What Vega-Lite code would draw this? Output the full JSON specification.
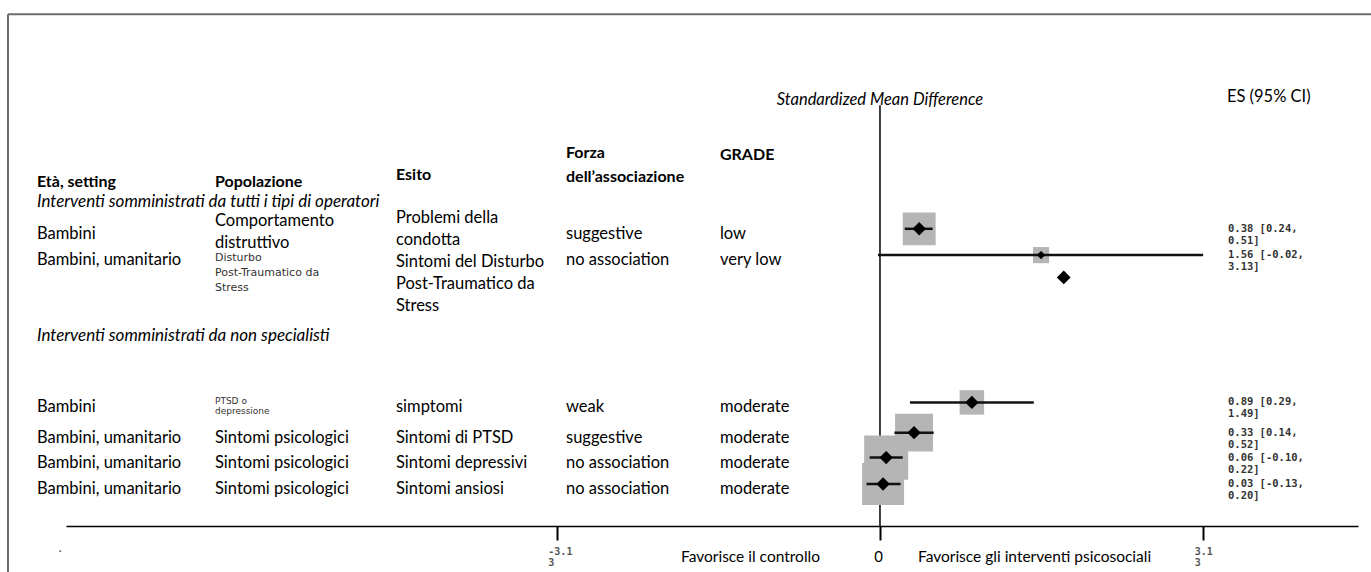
{
  "$schema": "https://vega.github.io/schema/vega-lite/v6.json",
  "autosize": {"type": "none"},
  "width": 1292,
  "height": 526,
  "padding": {"left": 66, "top": 0, "right": 13, "bottom": 46},
  "background": "white",
  "config": {"view": {"stroke": null}, "text": {"font": "Lato"}},
  "datasets": {
    "rows": [
      {"eta": "Bambini", "pop": "Comportamento\ndistruttivo", "esito": "Problemi della\ncondotta", "forza": "suggestive", "grade": "low", "es": 0.38, "lo": 0.24, "hi": 0.51, "ci": "0.38 [0.24,\n0.51]", "w": 54, "r": 17.4},
      {"eta": "Bambini, umanitario", "pop": "Disturbo\nPost-Traumatico da\nStress", "esito": "Sintomi del Disturbo\nPost-Traumatico da\nStress", "forza": "no association", "grade": "very low", "es": 1.56, "lo": -0.02, "hi": 3.13, "ci": "1.56 [-0.02,\n3.13]", "w": 13, "r": 19.4},
      {"eta": "Bambini", "pop": "PTSD o\ndepressione", "esito": "simptomi", "forza": "weak", "grade": "moderate", "es": 0.89, "lo": 0.29, "hi": 1.49, "ci": "0.89 [0.29,\n1.49]", "w": 30, "r": 30.6},
      {"eta": "Bambini, umanitario", "pop": "Sintomi psicologici", "esito": "Sintomi di PTSD", "forza": "suggestive", "grade": "moderate", "es": 0.33, "lo": 0.14, "hi": 0.52, "ci": "0.33 [0.14,\n0.52]", "w": 72, "r": 32.9},
      {"eta": "Bambini, umanitario", "pop": "Sintomi psicologici", "esito": "Sintomi depressivi", "forza": "no association", "grade": "moderate", "es": 0.06, "lo": -0.10, "hi": 0.22, "ci": "0.06 [-0.10,\n0.22]", "w": 97, "r": 34.8},
      {"eta": "Bambini, umanitario", "pop": "Sintomi psicologici", "esito": "Sintomi ansiosi", "forza": "no association", "grade": "moderate", "es": 0.03, "lo": -0.13, "hi": 0.20, "ci": "0.03 [-0.13,\n0.20]", "w": 88, "r": 36.8}
    ],
    "extra": [{"es": 1.78, "r": 21.1}]
  },
  "data": {"values": [{}]},
  "layer": [
    {
      "mark": {"type": "rule", "color": "#6b6b6b", "strokeWidth": 2},
      "encoding": {
        "x": {"datum": -8.446, "type": "quantitative", "scale": {"domain": [-7.884, 4.63], "nice": false, "zero": false}},
        "x2": {"datum": 4.756},
        "y": {"datum": 1.087, "type": "quantitative", "scale": {"domain": [0, 40], "reverse": true, "nice": false, "zero": false}, "axis": null}
      }
    },
    {
      "mark": {"type": "rule", "color": "#6b6b6b", "strokeWidth": 2},
      "encoding": {
        "x": {"datum": -8.446, "type": "quantitative"},
        "y": {"datum": 1.087, "type": "quantitative", "axis": null},
        "y2": {"datum": 43.5}
      }
    },
    {
      "mark": {"type": "rule", "color": "#000", "strokeWidth": 1.5},
      "encoding": {
        "x": {"datum": 0, "type": "quantitative"},
        "y": {"datum": 8.0, "type": "quantitative", "axis": null},
        "y2": {"datum": 40}
      }
    },
    {
      "data": {"name": "rows"},
      "mark": {"type": "point", "shape": "square", "filled": true, "color": "#b5b5b5", "opacity": 1},
      "encoding": {
        "x": {"field": "es", "type": "quantitative", "scale": {"domain": [-7.884, 4.63], "nice": false, "zero": false}},
        "y": {"field": "r", "type": "quantitative", "scale": {"domain": [0, 40], "reverse": true, "nice": false, "zero": false}, "axis": null},
        "size": {"field": "w", "type": "quantitative", "scale": {"domain": [0, 100], "range": [0, 2000]}, "legend": null}
      }
    },
    {
      "data": {"name": "rows"},
      "mark": {"type": "rule", "color": "#111", "strokeWidth": 2.5},
      "encoding": {
        "x": {
          "field": "lo", "type": "quantitative",
          "scale": {"domain": [-7.884, 4.63], "nice": false, "zero": false},
          "axis": {
            "values": [-3.13, 0, 3.13],
            "title": null,
            "grid": false,
            "domainColor": "#000",
            "domainWidth": 1.5,
            "ticks": true,
            "tickColor": "#000",
            "tickWidth": 2,
            "tickSize": 14,
            "labelExpr": "datum.value === 0 ? '0' : [slice('' + datum.value, 0, -1), slice('' + datum.value, -1)]",
            "labelAlign": {"condition": {"test": "datum.value === 0", "value": "center"}, "value": "left"},
            "labelOffset": {"condition": {"test": "datum.value === 0", "value": -2}, "value": -9},
            "labelFont": {"condition": {"test": "datum.value === 0", "value": "Lato"}, "value": "DejaVu Sans Mono"},
            "labelFontSize": {"condition": {"test": "datum.value === 0", "value": 15}, "value": 10},
            "labelFontWeight": {"condition": {"test": "datum.value === 0", "value": "normal"}, "value": "bold"},
            "labelColor": {"condition": {"test": "datum.value === 0", "value": "#000"}, "value": "#555"},
            "labelPadding": {"condition": {"test": "datum.value === 0", "value": 9}, "value": 6},
            "labelBaseline": "top",
            "labelLineHeight": 11,
            "labelOverlap": false,
            "labelFlush": false,
            "labelBound": false
          }
        },
        "x2": {"field": "hi"},
        "y": {"field": "r", "type": "quantitative", "axis": null}
      }
    },
    {
      "data": {"name": "rows"},
      "mark": {"type": "point", "shape": "diamond", "filled": true, "color": "#000", "opacity": 1},
      "encoding": {
        "x": {"field": "es", "type": "quantitative"},
        "y": {"field": "r", "type": "quantitative", "axis": null},
        "size": {"condition": {"test": "datum.w < 20", "value": 70}, "value": 180}
      }
    },
    {
      "data": {"name": "extra"},
      "mark": {"type": "point", "shape": "diamond", "filled": true, "color": "#000", "opacity": 1, "size": 190},
      "encoding": {
        "x": {"field": "es", "type": "quantitative"},
        "y": {"field": "r", "type": "quantitative", "axis": null}
      }
    },
    {
      "data": {"name": "rows"},
      "mark": {"type": "text", "align": "left", "baseline": "middle", "dy": 5, "font": "Lato", "fontSize": 16.5, "color": "#000"},
      "encoding": {
        "x": {"datum": -8.165, "type": "quantitative"},
        "y": {"field": "r", "type": "quantitative", "axis": null},
        "text": {"field": "eta"}
      }
    },
    {
      "data": {"name": "rows"},
      "transform": [{"filter": "indexof(datum.pop, 'Stress') < 0 && indexof(datum.pop, 'PTSD') < 0 && length(split(datum.pop, '\\n')) < 2"}],
      "mark": {"type": "text", "align": "left", "baseline": "middle", "dy": 5, "font": "Lato", "fontSize": 16.5, "color": "#000"},
      "encoding": {
        "x": {"datum": -6.441, "type": "quantitative"},
        "y": {"field": "r", "type": "quantitative", "axis": null},
        "text": {"field": "pop"}
      }
    },
    {
      "data": {"name": "rows"},
      "transform": [{"filter": "indexof(datum.pop, 'Stress') < 0 && indexof(datum.pop, 'PTSD') < 0 && length(split(datum.pop, '\\n')) == 2"}],
      "mark": {"type": "text", "align": "left", "baseline": "middle", "dy": -8, "font": "Lato", "fontSize": 16.5, "lineBreak": "\n", "lineHeight": 22, "color": "#000"},
      "encoding": {
        "x": {"datum": -6.441, "type": "quantitative"},
        "y": {"field": "r", "type": "quantitative", "axis": null},
        "text": {"field": "pop"}
      }
    },
    {
      "data": {"name": "rows"},
      "transform": [{"filter": "indexof(datum.pop, 'Stress') >= 0"}],
      "mark": {"type": "text", "align": "left", "baseline": "top", "dy": -3, "font": "DejaVu Sans", "fontSize": 11, "lineBreak": "\n", "lineHeight": 15, "color": "#333"},
      "encoding": {
        "x": {"datum": -6.441, "type": "quantitative"},
        "y": {"field": "r", "type": "quantitative", "axis": null},
        "text": {"field": "pop"}
      }
    },
    {
      "data": {"name": "rows"},
      "transform": [{"filter": "indexof(datum.pop, 'PTSD') >= 0"}],
      "mark": {"type": "text", "align": "left", "baseline": "middle", "dy": -1, "font": "DejaVu Sans", "fontSize": 9, "lineBreak": "\n", "lineHeight": 10, "color": "#333"},
      "encoding": {
        "x": {"datum": -6.441, "type": "quantitative"},
        "y": {"field": "r", "type": "quantitative", "axis": null},
        "text": {"field": "pop"}
      }
    },
    {
      "data": {"name": "rows"},
      "transform": [{"filter": "length(split(datum.esito, '\\n')) < 2"}],
      "mark": {"type": "text", "align": "left", "baseline": "middle", "dy": 5, "font": "Lato", "fontSize": 16.5, "color": "#000"},
      "encoding": {
        "x": {"datum": -4.688, "type": "quantitative"},
        "y": {"field": "r", "type": "quantitative", "axis": null},
        "text": {"field": "esito"}
      }
    },
    {
      "data": {"name": "rows"},
      "transform": [{"filter": "length(split(datum.esito, '\\n')) == 2"}],
      "mark": {"type": "text", "align": "left", "baseline": "middle", "dy": -11, "font": "Lato", "fontSize": 16.5, "lineBreak": "\n", "lineHeight": 22, "color": "#000"},
      "encoding": {
        "x": {"datum": -4.688, "type": "quantitative"},
        "y": {"field": "r", "type": "quantitative", "axis": null},
        "text": {"field": "esito"}
      }
    },
    {
      "data": {"name": "rows"},
      "transform": [{"filter": "length(split(datum.esito, '\\n')) >= 3"}],
      "mark": {"type": "text", "align": "left", "baseline": "middle", "dy": 7, "font": "Lato", "fontSize": 16.5, "lineBreak": "\n", "lineHeight": 22, "color": "#000"},
      "encoding": {
        "x": {"datum": -4.688, "type": "quantitative"},
        "y": {"field": "r", "type": "quantitative", "axis": null},
        "text": {"field": "esito"}
      }
    },
    {
      "data": {"name": "rows"},
      "mark": {"type": "text", "align": "left", "baseline": "middle", "dy": 5, "font": "Lato", "fontSize": 16.5, "color": "#000"},
      "encoding": {
        "x": {"datum": -3.041, "type": "quantitative"},
        "y": {"field": "r", "type": "quantitative", "axis": null},
        "text": {"field": "forza"}
      }
    },
    {
      "data": {"name": "rows"},
      "mark": {"type": "text", "align": "left", "baseline": "middle", "dy": 5, "font": "Lato", "fontSize": 16.5, "color": "#000"},
      "encoding": {
        "x": {"datum": -1.55, "type": "quantitative"},
        "y": {"field": "r", "type": "quantitative", "axis": null},
        "text": {"field": "grade"}
      }
    },
    {
      "data": {"name": "rows"},
      "mark": {"type": "text", "align": "left", "baseline": "middle", "dy": 0, "font": "DejaVu Sans Mono", "fontWeight": "bold", "fontSize": 10.5, "lineBreak": "\n", "lineHeight": 12, "color": "#333"},
      "encoding": {
        "x": {"datum": 3.371, "type": "quantitative"},
        "y": {"field": "r", "type": "quantitative", "axis": null},
        "text": {"field": "ci"}
      }
    },
    {
      "mark": {"type": "text", "align": "left", "baseline": "middle", "font": "Lato", "fontWeight": "bold", "fontSize": 16, "color": "#000", "text": "Età, setting"},
      "encoding": {"x": {"datum": -8.165, "type": "quantitative"}, "y": {"datum": 13.84, "type": "quantitative", "axis": null}}
    },
    {
      "mark": {"type": "text", "align": "left", "baseline": "middle", "font": "Lato", "fontWeight": "bold", "fontSize": 16, "color": "#000", "text": "Popolazione"},
      "encoding": {"x": {"datum": -6.441, "type": "quantitative"}, "y": {"datum": 13.84, "type": "quantitative", "axis": null}}
    },
    {
      "mark": {"type": "text", "align": "left", "baseline": "middle", "font": "Lato", "fontWeight": "bold", "fontSize": 16, "color": "#000", "text": "Esito"},
      "encoding": {"x": {"datum": -4.688, "type": "quantitative"}, "y": {"datum": 13.31, "type": "quantitative", "axis": null}}
    },
    {
      "mark": {"type": "text", "align": "left", "baseline": "middle", "font": "Lato", "fontWeight": "bold", "fontSize": 16, "lineHeight": 24, "color": "#000", "text": ["Forza", "dell’associazione"]},
      "encoding": {"x": {"datum": -3.041, "type": "quantitative"}, "y": {"datum": 11.63, "type": "quantitative", "axis": null}}
    },
    {
      "mark": {"type": "text", "align": "left", "baseline": "middle", "font": "Lato", "fontWeight": "bold", "fontSize": 16, "color": "#000", "text": "GRADE"},
      "encoding": {"x": {"datum": -1.55, "type": "quantitative"}, "y": {"datum": 11.79, "type": "quantitative", "axis": null}}
    },
    {
      "mark": {"type": "text", "align": "left", "baseline": "middle", "font": "Lato", "fontStyle": "italic", "fontSize": 17, "color": "#000", "text": "Interventi somministrati da tutti i tipi di operatori"},
      "encoding": {"x": {"datum": -8.165, "type": "quantitative"}, "y": {"datum": 15.36, "type": "quantitative", "axis": null}}
    },
    {
      "mark": {"type": "text", "align": "left", "baseline": "middle", "font": "Lato", "fontStyle": "italic", "fontSize": 17, "color": "#000", "text": "Interventi somministrati da non specialisti"},
      "encoding": {"x": {"datum": -8.165, "type": "quantitative"}, "y": {"datum": 25.55, "type": "quantitative", "axis": null}}
    },
    {
      "mark": {"type": "text", "align": "center", "baseline": "middle", "font": "Lato", "fontStyle": "italic", "fontSize": 16.5, "color": "#000", "text": "Standardized Mean Difference"},
      "encoding": {"x": {"datum": 0, "type": "quantitative"}, "y": {"datum": 7.6, "type": "quantitative", "axis": null}}
    },
    {
      "mark": {"type": "text", "align": "left", "baseline": "middle", "font": "Lato", "fontSize": 16.5, "color": "#000", "text": "ES (95% CI)"},
      "encoding": {"x": {"datum": 3.36, "type": "quantitative"}, "y": {"datum": 7.38, "type": "quantitative", "axis": null}}
    },
    {
      "mark": {"type": "text", "align": "right", "baseline": "middle", "font": "Lato", "fontSize": 15.5, "color": "#000", "text": "Favorisce il controllo"},
      "encoding": {"x": {"datum": -0.581, "type": "quantitative"}, "y": {"datum": 42.36, "type": "quantitative", "axis": null}}
    },
    {
      "mark": {"type": "text", "align": "left", "baseline": "middle", "font": "Lato", "fontSize": 15.5, "color": "#000", "text": "Favorisce gli interventi psicosociali"},
      "encoding": {"x": {"datum": 0.368, "type": "quantitative"}, "y": {"datum": 42.36, "type": "quantitative", "axis": null}}
    },
    {
      "mark": {"type": "text", "align": "center", "baseline": "middle", "font": "Lato", "fontSize": 14, "color": "#555", "text": "."},
      "encoding": {"x": {"datum": -7.94, "type": "quantitative"}, "y": {"datum": 41.67, "type": "quantitative", "axis": null}}
    }
  ]
}
